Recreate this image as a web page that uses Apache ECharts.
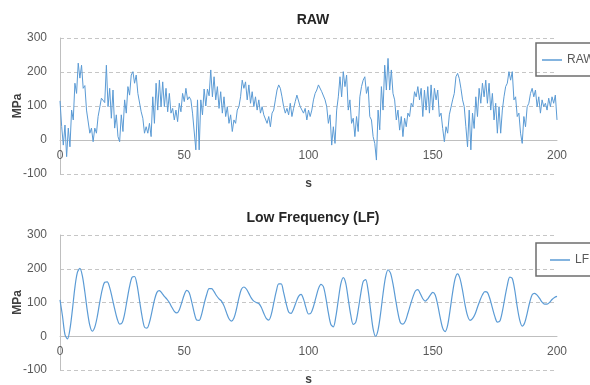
<!DOCTYPE html>
<html>
<head>
<meta charset="utf-8">
<script src="https://cdn.jsdelivr.net/npm/echarts@6/dist/echarts.min.js"></script>
<style>
  html, body { margin: 0; padding: 0; background: #fff; }
  #main { width: 590px; height: 385px; }
</style>
</head>
<body>
<div id="main"></div>
<script>
  // 原始信号，每 2/3 秒一个采样点（0 ~ 200 s）
  const rawStep = 200 / 300;
  const rawValues = [
    115, 40, -15, 44, -49, 35, -20, 88, 59, 167,
    137, 226, 182, 220, 152, 160, 88, 85, 20, 35,
    -5, 35, 20, 69, 69, 123, 120, 110, 220, 98,
    152, 64, 147, 35, 74, 10, -5, 74, 25, 118,
    79, 157, 132, 191, 201, 167, 191, 137, 137, 83,
    64, 20, 39, 20, 49, 10, 127, 49, 167, 88,
    176, 98, 171, 98, 152, 83, 137, 79, 93, 59,
    88, 54, 108, 83, 137, 113, 152, 118, 127, 118,
    79, 79, -29, 118, -29,
    118, 74, 150, 100, 150,
    130, 206, 127, 186, 118, 157, 93, 142, 79, 127,
    69, 98, 49, 74, 25, 59, 49, 88, 98, 127,
    176, 152, 171, 118, 162, 108, 142, 98, 127, 88,
    118, 79, 98, 74, 79, 49, 69, 39, 79, 88,
    118, 147, 162, 152, 127, 98, 79, 93, 74, 108,
    69, 93, 113, 132, 127, 98, 103, 79, 93, 59,
    88, 69, 88, 118, 137, 147, 162, 157, 142, 147,
    118, 98, 49, 74, -15, 39, -10, 88, 127, 186,
    127, 201, 157, 191, 88, 118, 49, 64, 10, 69,
    25, 127, 157, 176, 186, 137, 157, 69, 59, 10,
    -10, -59, 88,
    30, 157, 88, 220, 147, 240, 147,
    206, 137, 118, 59, 88, 29, 69, 10, 64, 39,
    79, 69, 108, 98, 142, 127, 157, 118, 152, 69,
    147, 88, 157, 79, 162, 88, 152, 118, 147, 69,
    79, 34, -5, 39, 20, 74, 79, 118, 137, 186,
    196, 181, 152, 118, 98, 39, -20, 88, -29, 79,
    34, 127, 69, 152, 108, 167, 127, 176, 108, 167,
    88, 137, 59, 108, 20, 98, 20, 88, 127, 157,
    167, 201, 176, 201, 118, 127, 69, 79, 20, -10,
    69, 39, 98, 108, 137, 152, 127, 147, 98, 127,
    79, 118, 98, 108, 88, 123, 98, 127, 108, 132, 59
  ];

  // 低频分量，每秒一个点（0 ~ 200 s）
  const lfStep = 1;
  const lfValues = [
    108, 60, 5, -8, 21, 79, 145, 189, 201, 179,
    131, 75, 32, 15, 27, 58, 101, 138, 160, 161,
    144, 114, 81, 52, 36, 40, 66, 108, 148, 175,
    177, 152, 106, 60, 27, 24, 41, 73, 107, 130,
    135, 128, 118, 110, 100, 86, 74, 69, 78, 100,
    123, 136, 129, 102, 70, 48, 47, 65, 96, 123,
    141, 141, 132, 120, 111, 104, 90, 70, 52, 45,
    54, 80, 114, 139, 146, 140, 127, 113, 104, 100,
    97, 86, 68, 53, 48, 64, 98, 132, 155, 155,
    129, 97, 72, 68, 81, 101, 118, 124, 110, 84,
    66, 69, 88, 115, 141, 154, 147, 113, 69, 35,
    28, 58, 108, 155, 174, 157, 110, 63, 35, 41,
    78, 125, 162, 168, 135, 77, 22, 0, 19, 67,
    126, 175, 197, 187, 155, 111, 69, 40, 36, 45,
    68, 93, 116, 134, 138, 126, 111, 104, 111, 122,
    130, 122, 93, 55, 24, 14, 33, 79, 130, 171,
    185, 170, 135, 93, 61, 47, 52, 65, 86, 106,
    123, 132, 130, 111, 84, 58, 42, 45, 73, 113,
    151, 175, 171, 137, 87, 48, 30, 40, 68, 100,
    123, 127, 122, 112, 101, 95, 95, 100, 109, 115,
    118
  ];

  const xTicks = [0, 50, 100, 150, 200];
  const yTicks = [-100, 0, 100, 200, 300];

  const fontFamily = '"Liberation Sans", Arial, sans-serif';
  const lineColor = '#5B9BD5';
  const labelColor = '#595959';

  function toPairs(values, step) {
    return values.map((v, i) => [i * step, v]);
  }

  function makeXAxis(gridIndex) {
    return {
      gridIndex: gridIndex,
      type: 'value',
      min: xTicks[0],
      max: xTicks[xTicks.length - 1],
      interval: xTicks[1] - xTicks[0],
      name: 's',
      nameLocation: 'middle',
      nameGap: 4,
      nameMoveOverlap: false,
      nameTextStyle: { color: '#404040', fontWeight: 'bold', fontSize: 12, fontFamily: fontFamily },
      axisLine: { show: true, onZero: true, lineStyle: { color: '#bfbfbf', width: 1 } },
      axisTick: { show: false },
      splitLine: { show: false },
      // 标签贴着 0 线下方（v6 中标签留在网格底边，用负 margin 拉上来）
      axisLabel: { color: labelColor, fontSize: 12, margin: -24, fontFamily: fontFamily }
    };
  }

  function makeYAxis(gridIndex) {
    return {
      gridIndex: gridIndex,
      type: 'value',
      min: yTicks[0],
      max: yTicks[yTicks.length - 1],
      interval: yTicks[1] - yTicks[0],
      name: 'MPa',
      nameLocation: 'middle',
      nameGap: 36,
      nameMoveOverlap: false,
      nameTextStyle: { color: '#404040', fontWeight: 'bold', fontSize: 12, fontFamily: fontFamily },
      axisLine: { show: true, lineStyle: { color: '#bfbfbf', width: 1 } },
      axisTick: { show: false },
      splitLine: { show: true, lineStyle: { color: '#c6c6c6', type: [4, 3], width: 1 } },
      axisLabel: { color: labelColor, fontSize: 12, margin: 13, fontFamily: fontFamily }
    };
  }

  function makeLegend(name, top, padLeft) {
    return {
      data: [name],
      left: 536,
      top: top,
      orient: 'vertical',
      icon: 'rect',
      padding: [10, 60, 9, padLeft],
      itemWidth: 20,
      itemHeight: 1.5,
      itemGap: 0,
      borderColor: '#6e6e6e',
      borderWidth: 1.5,
      textStyle: { color: labelColor, fontSize: 12, fontFamily: fontFamily, lineHeight: 14 }
    };
  }

  const chart = echarts.init(document.getElementById('main'));
  const option = {
    backgroundColor: '#fff',
    animation: false,
    title: [
      {
        text: 'RAW',
        left: 308,
        top: 8,
        textAlign: 'center',
        textStyle: { color: '#262626', fontSize: 14, fontWeight: 'bold', fontFamily: fontFamily }
      },
      {
        text: 'Low Frequency (LF)',
        left: 308,
        top: 206,
        textAlign: 'center',
        textStyle: { color: '#262626', fontSize: 14, fontWeight: 'bold', fontFamily: fontFamily }
      }
    ],
    legend: [
      makeLegend('RAW', 43, 6),
      makeLegend('LF', 243, 14)
    ],
    grid: [
      { left: 60, top: 38, width: 497, height: 136, outerBoundsMode: 'none', containLabel: false },
      { left: 60, top: 235, width: 497, height: 135, outerBoundsMode: 'none', containLabel: false }
    ],
    xAxis: [makeXAxis(0), makeXAxis(1)],
    yAxis: [makeYAxis(0), makeYAxis(1)],
    series: [
      {
        name: 'RAW',
        type: 'line',
        xAxisIndex: 0,
        yAxisIndex: 0,
        symbol: 'none',
        lineStyle: { color: lineColor, width: 1 },
        itemStyle: { color: lineColor },
        data: toPairs(rawValues, rawStep)
      },
      {
        name: 'LF',
        type: 'line',
        xAxisIndex: 1,
        yAxisIndex: 1,
        symbol: 'none',
        smooth: 0.3,
        lineStyle: { color: lineColor, width: 1.2 },
        itemStyle: { color: lineColor },
        data: toPairs(lfValues, lfStep)
      }
    ]
  };
  chart.setOption(option);
</script>
</body>
</html>
